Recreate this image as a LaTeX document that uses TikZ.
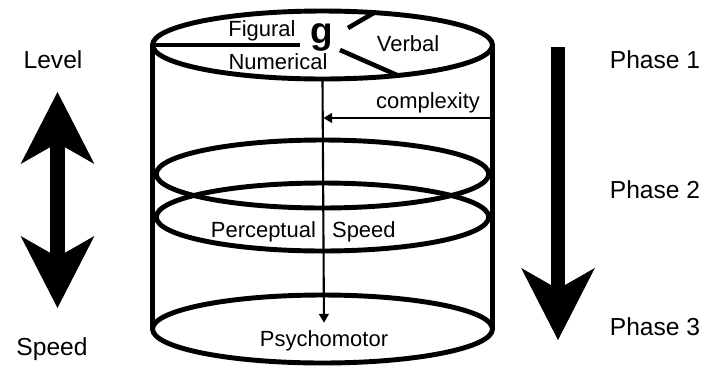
\documentclass[tikz,border=0pt]{standalone}
\usepackage{fontspec}
\setmainfont{Liberation Sans}
\usetikzlibrary{shapes.geometric,arrows.meta,positioning,calc}

\tikzset{bigtip/.tip={Stealth[length=41pt,width=42pt,inset=12pt,line width=0pt]}}

\begin{document}
\begin{tikzpicture}[
    x=0.02cm, y=-0.02cm,
    ring/.style={ellipse, draw=black, line width=2.8pt, minimum width=6.8cm, minimum height=1.36cm, inner sep=0pt, outer sep=0pt},
    midring/.style={ring, minimum width=6.65cm},
    ringtext/.style={font=\fontsize{12.5}{15}\selectfont, anchor=base, inner sep=1pt},
    sidetext/.style={font=\fontsize{14}{17}\selectfont, anchor=base, inner sep=1pt},
    divider/.style={line width=2.6pt},
    flow/.style={line width=1.2pt, -{Triangle[length=5pt,width=5.5pt]}},
    blockarrow/.style={line width=8pt}
]
\useasboundingbox (0,0) rectangle (710,373);

% Cylinder rings
\node[ring] (top) at (322.5,45) {};
\node[midring] (ring2) at (322.5,174) {};
\node[midring] (ring3) at (322.5,217) {};
\node[ring] (bottom) at (322.5,329) {};

% Cylinder sides
\draw[divider, line width=2.8pt] (top.west) -- (bottom.west);
\draw[divider, line width=2.8pt] (top.east) -- (bottom.east);

% Top level: g and its factors
\node[font=\fontsize{21}{24}\selectfont\bfseries, anchor=base, inner sep=0pt] (g) at (322,43) {g};
\node[ringtext] (figural) at (262,36) {Figural};
\node[ringtext] (numerical) at (278,69) {Numerical};
\node[ringtext] (verbal) at (408,51) {Verbal};

\coordinate (figend) at (300,45);
\coordinate (gup) at (348,28);
\coordinate (gdown) at (340,50);
\draw[divider] (top.west) -- (figend);
\draw[divider] (gup) -- (top.32);
\draw[divider] (gdown) -- (top.-22);

% Lower levels
\node[ringtext] (complexity) at (428,108) {complexity};
\node[ringtext, anchor=base east] (perceptual) at (318,237) {Perceptual};
\node[ringtext, anchor=base west] (speedlbl) at (330,237) {Speed};
\node[ringtext] (psycho) at (324,346) {Psychomotor};

% Arrows inside the cylinder
\draw[flow, shorten >=3pt] (top.south) -- (psycho.north);
\coordinate (cplx) at (492,118);
\draw[flow, shorten >=0.5pt] (cplx) -- (cplx -| top.south);

% Level / Speed
\node[sidetext] (level) at (53,68) {Level};
\node[sidetext] (speed) at (52,355) {Speed};
\coordinate (lvtop) at (57.5,92);
\coordinate (lvbot) at (57.5,308);
\draw[blockarrow, bigtip-bigtip] (lvtop) -- (lvbot);

% Phases
\node[sidetext] (phase1) at (655,68) {Phase 1};
\node[sidetext] (phase2) at (655,198) {Phase 2};
\node[sidetext] (phase3) at (655,335) {Phase 3};
\coordinate (phtop) at (558,47);
\coordinate (phbot) at (558,340);
\draw[blockarrow, -bigtip] (phtop) -- (phbot);

\end{tikzpicture}
\end{document}
